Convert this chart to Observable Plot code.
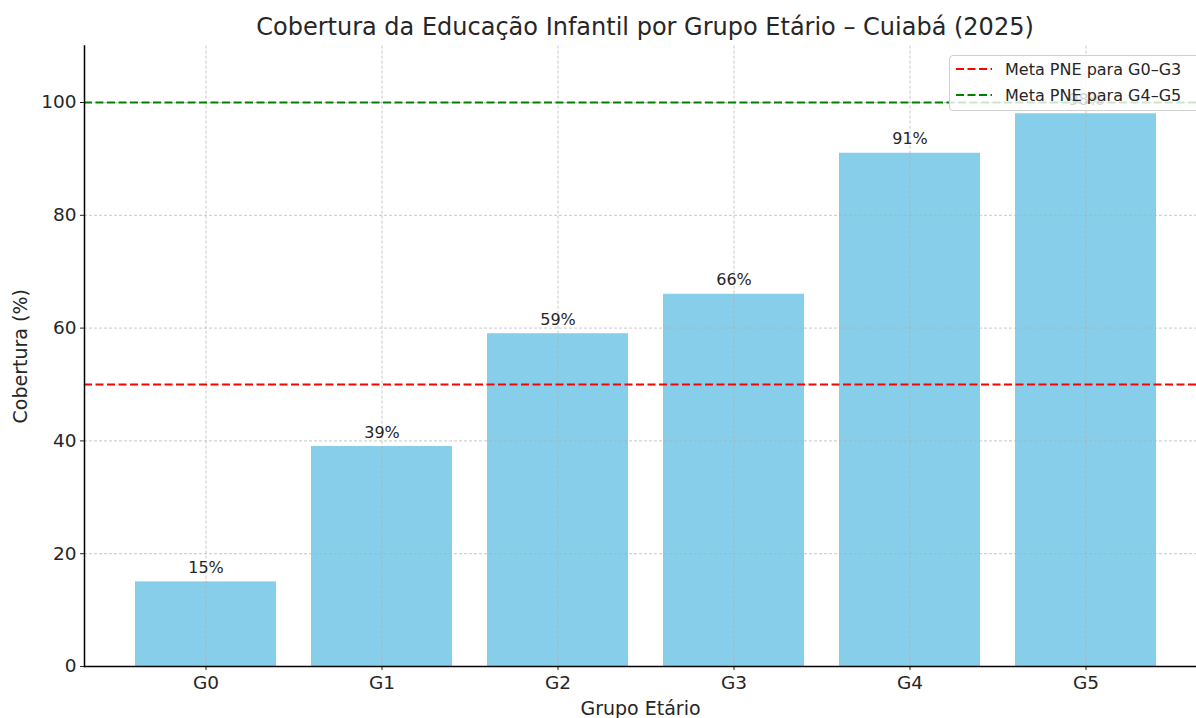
<!DOCTYPE html>
<html><head><meta charset="utf-8">
<script src="https://cdn.jsdelivr.net/npm/d3@7"></script>
<script src="https://cdn.jsdelivr.net/npm/@observablehq/plot@0.6"></script>
<style>
html,body{margin:0;padding:0;background:#fff;overflow:hidden;width:1196px;height:718px;}
body{font-family:"DejaVu Sans",sans-serif;color:#262626;position:relative;}
#title{height:40px;line-height:54px;padding-left:94px;text-align:center;font-size:24px;color:#262626;white-space:nowrap;}
#legend{position:absolute;left:949px;top:55px;width:270px;height:54px;background:rgba(255,255,255,0.8);border:1px solid #d0d0d0;border-radius:4px;font-size:16px;}
#legend .row{height:26px;display:flex;align-items:center;padding-left:6px;}
#legend svg{margin-right:13px;}
</style></head>
<body>
<div id="title">Cobertura da Educação Infantil por Grupo Etário – Cuiabá (2025)</div>
<div id="chart"></div>
<div id="legend"></div>
<script>
const categories = ["G0", "G1", "G2", "G3", "G4", "G5"];
const coverage = [15, 39, 59, 66, 91, 98];
const yTicks = [0, 20, 40, 60, 80, 100];
const targetValues = [50, 100];
const targetLabels = ["Meta PNE para G0–G3", "Meta PNE para G4–G5"];
const targetColors = ["red", "green"];

const data = categories.map((c, i) => ({grupo: c, valor: coverage[i]}));
const targets = targetValues.map((v, i) => ({valor: v, label: targetLabels[i], color: targetColors[i]}));

const chart = Plot.plot({
  width: 1196,
  height: 678,
  marginLeft: 84,
  marginRight: 0,
  marginTop: 5.6,
  marginBottom: 52,
  style: {fontFamily: "DejaVu Sans, sans-serif", color: "#262626", background: "white", overflow: "hidden"},
  x: {type: "band", domain: categories, range: [84, 1206], paddingInner: 0.2, paddingOuter: 0.2875, align: 0.5},
  y: {domain: [0, 110]},
  marks: [
    Plot.barY(data, {x: "grupo", y: "valor", fill: "#87CEEB"}),
    Plot.gridY(yTicks, {stroke: "#b0b0b0", strokeOpacity: 0.7, strokeDasharray: "3,2"}),
    Plot.gridX(categories, {stroke: "#b0b0b0", strokeOpacity: 0.7, strokeDasharray: "3,2"}),
    Plot.ruleY(targets, {y: "valor", stroke: "color", strokeWidth: 2, strokeDasharray: "8,3.5"}),
    Plot.text(data, {x: "grupo", y: d => d.valor + 1.6, text: d => d.valor + "%", lineAnchor: "bottom", fontSize: 16, fill: "#262626"}),
    Plot.axisY(yTicks, {tickSize: 4, tickPadding: 4, fontSize: 18.5, label: "Cobertura (%)", labelAnchor: "center", labelOffset: 71, labelArrow: "none"}),
    Plot.axisX(categories, {tickSize: 4, tickPadding: 5, fontSize: 18.5, label: "Grupo Etário", labelAnchor: "center", labelOffset: 48, labelArrow: "none"}),
    Plot.frame({anchor: "left", stroke: "black", strokeWidth: 1.5}),
    Plot.frame({anchor: "bottom", stroke: "black", strokeWidth: 1.5})
  ]
});
document.getElementById("chart").appendChild(chart);
chart.querySelectorAll('g[aria-label="y-axis label"] text, g[aria-label="x-axis label"] text').forEach(t => t.setAttribute("font-size", "19"));

const legend = document.getElementById("legend");
targets.forEach(t => {
  const row = document.createElement("div");
  row.className = "row";
  row.innerHTML = `<svg width="36" height="10"><line x1="0" x2="36" y1="5" y2="5" stroke="${t.color}" stroke-width="2" stroke-dasharray="8,3.5"/></svg><span>${t.label}</span>`;
  legend.appendChild(row);
});
</script>
</body></html>
